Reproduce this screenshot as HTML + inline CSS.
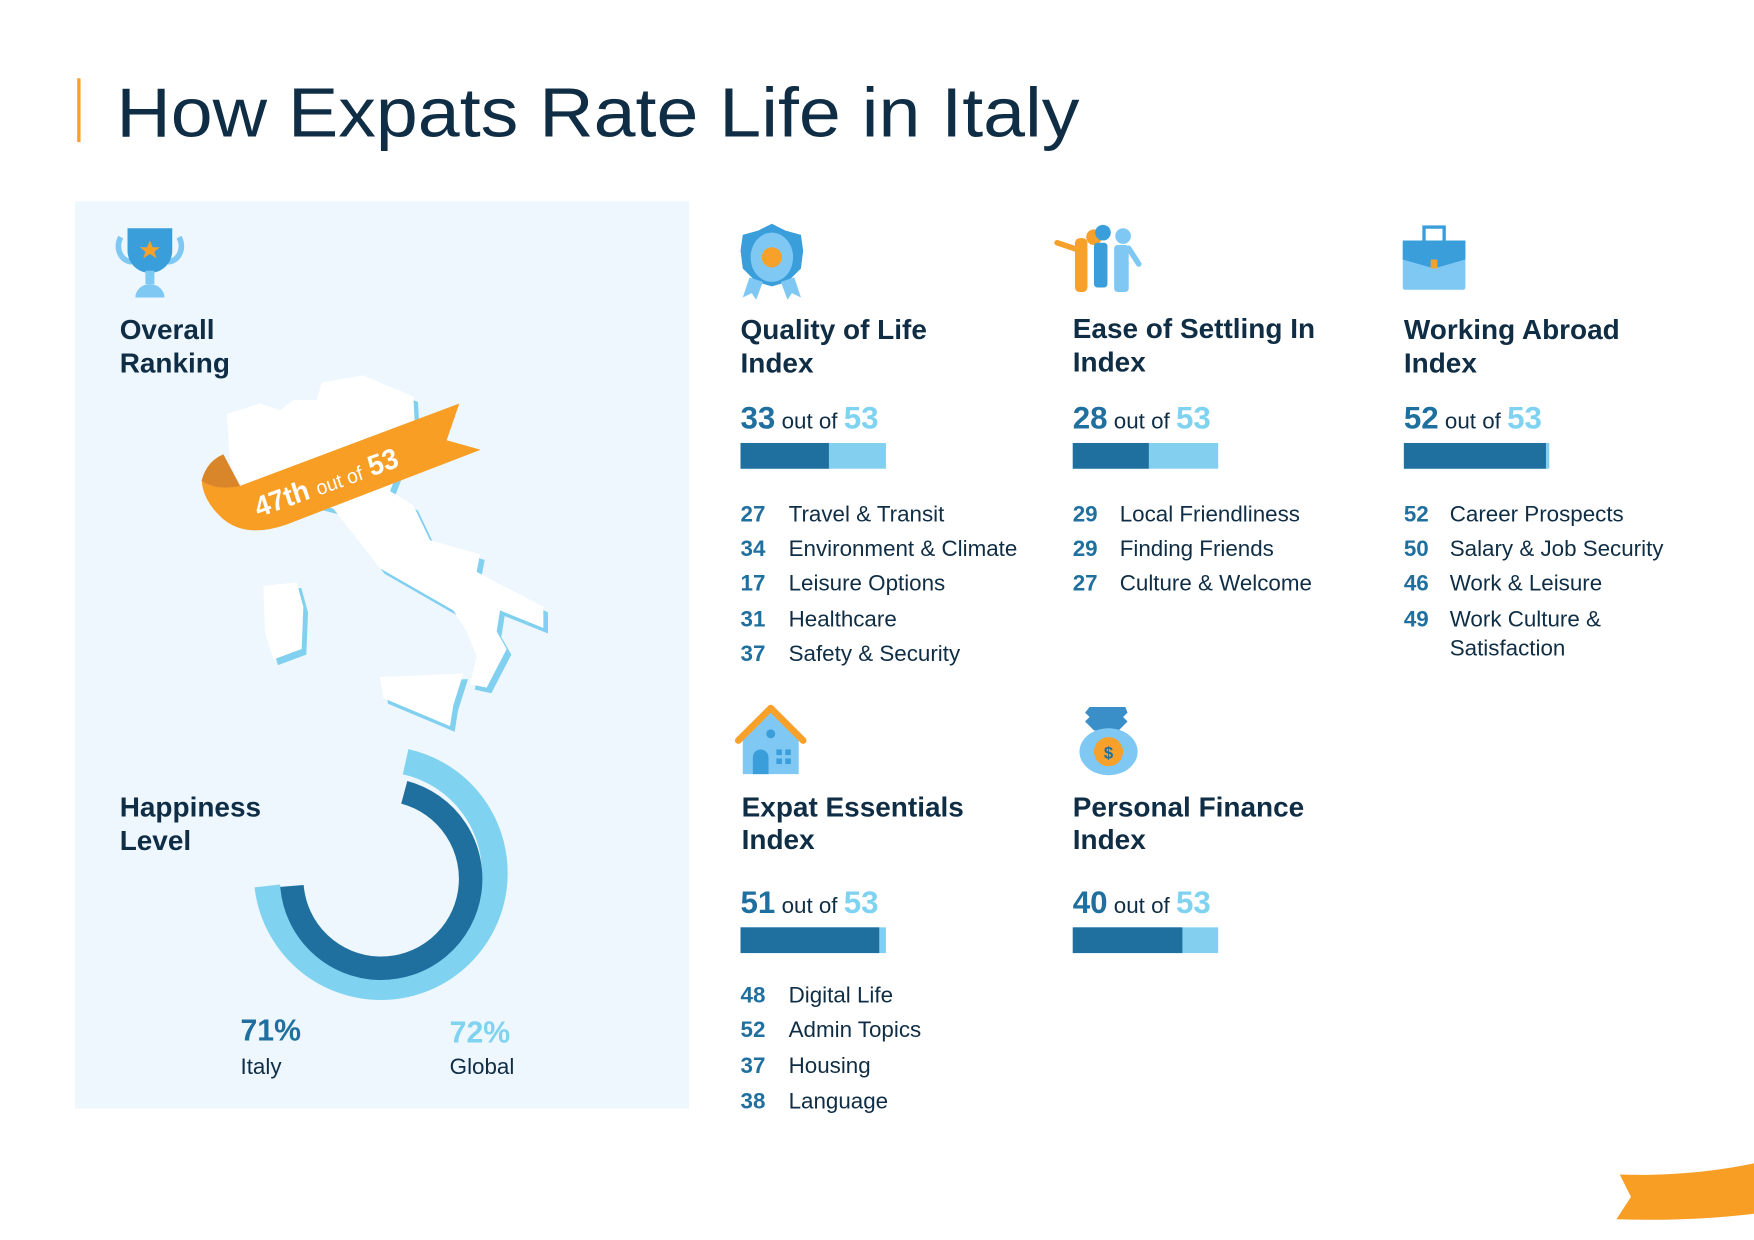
<!DOCTYPE html>
<html><head><meta charset="utf-8"><style>html,body{margin:0;padding:0;background:#fff}svg{display:block}text{font-family:"Liberation Sans",sans-serif}</style></head>
<body>
<svg width="1754" height="1240" viewBox="0 0 1568 1108.5" xmlns="http://www.w3.org/2000/svg">
<rect width="1568" height="1108.5" fill="#fff"/>
<rect x="69" y="70" width="3" height="57" fill="#f7a02a"/>
<text x="104" y="122" font-size="62" fill="#0f2d44" textLength="861" lengthAdjust="spacingAndGlyphs">How Expats Rate Life in Italy</text>
<rect x="67" y="180" width="549" height="811" fill="#eef7fd"/>

<!-- trophy -->
<g>
<path d="M108,212 a12,14 0 0 0 10,22" fill="none" stroke="#7fc8f4" stroke-width="5"/>
<path d="M160,212 a12,14 0 0 1 -10,22" fill="none" stroke="#7fc8f4" stroke-width="5"/>
<path d="M114,204 h40 v20 a20,20 0 0 1 -40,0 z" fill="#3a9edb"/>
<rect x="130" y="242" width="8" height="12" fill="#7fc8f4"/>
<path d="M121,266 a13,12 0 0 1 26,0 z" fill="#7fc8f4"/>
<polygon points="134,215 136.5,221 143,221 138,225 140,231 134,227 128,231 130,225 125,221 131.5,221" fill="#f7a02a"/>
</g>
<text x="107" y="303" font-size="25" font-weight="bold" fill="#0f2d44">Overall</text>
<text x="107" y="333" font-size="25" font-weight="bold" fill="#0f2d44">Ranking</text>

<!-- map in zoom coords -->
<g transform="scale(0.89396) translate(100,200) scale(0.33333,0.35077)">
<g transform="translate(14,16)" fill="#82d0ef">
<path d="M380,610 L480,580 L540,600 L580,570 L650,570 L665,520 L790,500 L940,560 L945,650 L870,830 L940,870 L990,970 L1140,1010 L1130,1060 L1330,1160 L1330,1220 L1200,1170 L1190,1230 L1220,1280 L1160,1390 L1110,1380 L1130,1300 L1100,1230 L1060,1170 L840,1050 L700,880 L420,810 L390,750 Z"/>
<path d="M490,1100 L590,1090 L610,1160 L605,1280 L520,1310 L495,1230 Z"/>
<path d="M840,1360 L1090,1350 L1060,1440 L1050,1500 L850,1420 Z"/>
</g>
<g fill="#ffffff">
<path d="M380,610 L480,580 L540,600 L580,570 L650,570 L665,520 L790,500 L940,560 L945,650 L870,830 L940,870 L990,970 L1140,1010 L1130,1060 L1330,1160 L1330,1220 L1200,1170 L1190,1230 L1220,1280 L1160,1390 L1110,1380 L1130,1300 L1100,1230 L1060,1170 L840,1050 L700,880 L420,810 L390,750 Z"/>
<path d="M490,1100 L590,1090 L610,1160 L605,1280 L520,1310 L495,1230 Z"/>
<path d="M840,1360 L1090,1350 L1060,1440 L1050,1500 L850,1420 Z"/>
</g>
<path d="M305,800 Q320,745 370,725 L420,815 L1078,580 L1040,685 L1142,712 L560,925 Q440,965 370,910 Q310,860 305,800 Z" fill="#f89e25"/>
<path d="M305,800 Q320,745 370,725 L420,815 Q350,830 305,800 Z" fill="#d9862b"/>
<g transform="translate(475,905) rotate(-19)">
<text x="0" y="0" font-size="82" font-weight="bold" fill="#fff">47th <tspan font-size="58" font-weight="normal">out of</tspan> 53</text>
</g>
</g>

<!-- happiness -->
<text x="107" y="730" font-size="25" font-weight="bold" fill="#0f2d44">Happiness</text>
<text x="107" y="760" font-size="25" font-weight="bold" fill="#0f2d44">Level</text>
<g fill="none">
<path d="M362.6,680.9 A102,102 0 1 1 239,792" stroke="#7fd3f0" stroke-width="23"/>
<path d="M361.4,708.3 A80,80 0 1 1 261,792" stroke="#1f6f9f" stroke-width="21"/>
</g>
<text x="215" y="930" font-size="27" font-weight="bold" fill="#1f6f9f">71%</text>
<text x="215" y="960" font-size="20" fill="#0f2d44">Italy</text>
<text x="402" y="932" font-size="27" font-weight="bold" fill="#7fd3f0">72%</text>
<text x="402" y="960" font-size="20" fill="#0f2d44">Global</text>

<!-- icons row 1 -->
<g>
<path d="M690,200 L702,206 L716,210 L718,224 L716,240 L704,252 L690,256 L676,252 L664,240 L662,224 L664,210 L678,206 Z" fill="#3a9edb"/>
<path d="M670,248 L664,266 L672,262 L676,268 L682,252 Z M710,248 L716,266 L708,262 L704,268 L698,252 Z" fill="#7fc8f4"/>
<ellipse cx="690" cy="230" rx="19" ry="22" fill="#7fc8f4"/>
<circle cx="690" cy="230" r="9" fill="#f7a02a"/>
</g>
<g>
<rect x="961" y="213" width="11" height="48" rx="4" fill="#f7a02a"/>
<circle cx="978" cy="212" r="7" fill="#f7a02a"/>
<path d="M945,217 L966,224" stroke="#f7a02a" stroke-width="5" stroke-linecap="round"/>
<circle cx="986" cy="208" r="7" fill="#3a9edb"/>
<rect x="978" y="217" width="12" height="40" rx="3" fill="#3a9edb"/>
<circle cx="1004" cy="211" r="7" fill="#7fc8f4"/>
<rect x="996" y="219" width="13" height="42" rx="3" fill="#7fc8f4"/>
<path d="M1009,222 L1018,236" stroke="#7fc8f4" stroke-width="5" stroke-linecap="round"/>
<rect x="962" y="213" width="10" height="48" rx="4" fill="#f7a02a"/>
</g>
<g>
<rect x="1273" y="203" width="18" height="14" fill="none" stroke="#3a9edb" stroke-width="3"/>
<rect x="1254" y="215" width="56" height="44" rx="2" fill="#7fc8f4"/>
<path d="M1254,215 h56 v17 l-28,8 l-28,-8 z" fill="#3a9edb"/>
<rect x="1279" y="232" width="6" height="8" rx="1" fill="#f7a02a"/>
</g>

<g font-size="25" font-weight="bold" fill="#0f2d44">
<text x="662" y="303">Quality of Life</text><text x="662" y="333">Index</text>
<text x="959" y="302">Ease of Settling In</text><text x="959" y="332">Index</text>
<text x="1255" y="303">Working Abroad</text><text x="1255" y="333">Index</text>
<text x="663" y="730">Expat Essentials</text><text x="663" y="759">Index</text>
<text x="959" y="730">Personal Finance</text><text x="959" y="759">Index</text>
</g>

<g font-size="20" fill="#0f2d44">
<text x="662" y="383"><tspan font-size="28" font-weight="bold" fill="#1f6f9f">33</tspan> out of <tspan font-size="28" font-weight="bold" fill="#7fd3f0">53</tspan></text>
<text x="959" y="383"><tspan font-size="28" font-weight="bold" fill="#1f6f9f">28</tspan> out of <tspan font-size="28" font-weight="bold" fill="#7fd3f0">53</tspan></text>
<text x="1255" y="383"><tspan font-size="28" font-weight="bold" fill="#1f6f9f">52</tspan> out of <tspan font-size="28" font-weight="bold" fill="#7fd3f0">53</tspan></text>
<text x="662" y="816"><tspan font-size="28" font-weight="bold" fill="#1f6f9f">51</tspan> out of <tspan font-size="28" font-weight="bold" fill="#7fd3f0">53</tspan></text>
<text x="959" y="816"><tspan font-size="28" font-weight="bold" fill="#1f6f9f">40</tspan> out of <tspan font-size="28" font-weight="bold" fill="#7fd3f0">53</tspan></text>
</g>

<!-- bars -->
<rect x="662" y="396" width="130" height="23" fill="#82cff0"/><rect x="662" y="396" width="79" height="23" fill="#1f6f9f"/>
<rect x="959" y="396" width="130" height="23" fill="#82cff0"/><rect x="959" y="396" width="68" height="23" fill="#1f6f9f"/>
<rect x="1255" y="396" width="130" height="23" fill="#82cff0"/><rect x="1255" y="396" width="127" height="23" fill="#1f6f9f"/>
<rect x="662" y="829" width="130" height="23" fill="#82cff0"/><rect x="662" y="829" width="124" height="23" fill="#1f6f9f"/>
<rect x="959" y="829" width="130" height="23" fill="#82cff0"/><rect x="959" y="829" width="98" height="23" fill="#1f6f9f"/>

<!-- lists -->
<g font-size="20" fill="#0f2d44">
<g fill="#1f6f9f" font-weight="bold">
<text x="662" y="466">27</text><text x="662" y="497">34</text><text x="662" y="528">17</text><text x="662" y="560">31</text><text x="662" y="591">37</text>
<text x="959" y="466">29</text><text x="959" y="497">29</text><text x="959" y="528">27</text>
<text x="1255" y="466">52</text><text x="1255" y="497">50</text><text x="1255" y="528">46</text><text x="1255" y="560">49</text>
<text x="662" y="896">48</text><text x="662" y="927">52</text><text x="662" y="959">37</text><text x="662" y="991">38</text>
</g>
<text x="705" y="466">Travel &amp; Transit</text><text x="705" y="497">Environment &amp; Climate</text><text x="705" y="528">Leisure Options</text><text x="705" y="560">Healthcare</text><text x="705" y="591">Safety &amp; Security</text>
<text x="1001" y="466">Local Friendliness</text><text x="1001" y="497">Finding Friends</text><text x="1001" y="528">Culture &amp; Welcome</text>
<text x="1296" y="466">Career Prospects</text><text x="1296" y="497">Salary &amp; Job Security</text><text x="1296" y="528">Work &amp; Leisure</text><text x="1296" y="560">Work Culture &amp;</text><text x="1296" y="586">Satisfaction</text>
<text x="705" y="896">Digital Life</text><text x="705" y="927">Admin Topics</text><text x="705" y="959">Housing</text><text x="705" y="991">Language</text>
</g>

<!-- icons row 2 -->
<g>
<path d="M664,662 L689,637 L714,662 V692 H664 Z" fill="#7fc8f4"/>
<path d="M660,662 L689,633 L718,662" fill="none" stroke="#f7a02a" stroke-width="6" stroke-linecap="round" stroke-linejoin="round"/>
<circle cx="689" cy="656" r="4" fill="#3a9edb"/>
<path d="M673,692 V677 a7,7 0 0 1 14,0 V692 z" fill="#3a9edb"/>
<rect x="694" y="670" width="5" height="5" fill="#3a9edb"/><rect x="702" y="670" width="5" height="5" fill="#3a9edb"/>
<rect x="694" y="678" width="5" height="5" fill="#3a9edb"/><rect x="702" y="678" width="5" height="5" fill="#3a9edb"/>
</g>
<g>
<path d="M974,632 h32 l2,5 l-4,4 l4,4 l-8,8 h-22 l-8,-8 l4,-4 l-4,-4 z" fill="#3a8fc8"/>
<ellipse cx="991" cy="672" rx="26" ry="21" fill="#7fc8f4"/>
<circle cx="991" cy="672" r="13" fill="#f7a02a"/>
<text x="991" y="678" font-size="15" font-weight="bold" fill="#1f6f9f" text-anchor="middle">$</text>
</g>

<!-- corner swoosh -->
<path d="M1448,1050 Q1510,1052 1568,1040 V1085 Q1510,1092 1445,1090 L1458,1070 Z" fill="#f89e25"/>
</svg>
</body></html>
